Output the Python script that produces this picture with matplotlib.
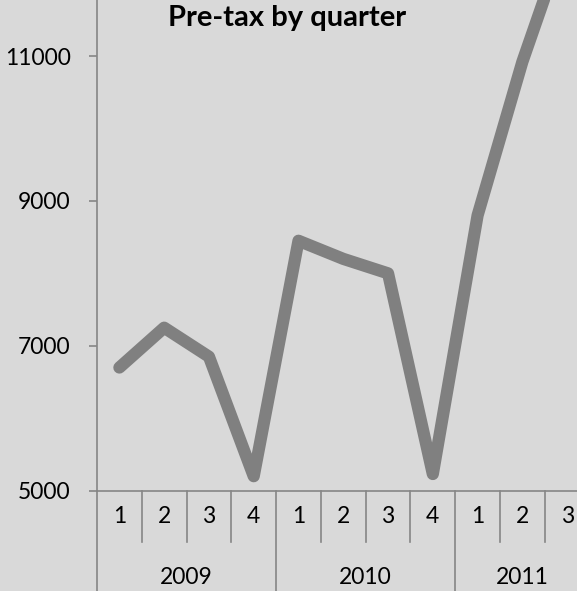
import matplotlib
matplotlib.use("Agg")
import matplotlib.pyplot as plt
from matplotlib.lines import Line2D

plt.rcParams['font.family'] = ['Lato', 'DejaVu Sans']

# quarterly pre-tax figures, 2009 Q1 .. 2011 Q3
years = ['2009', '2010', '2011']
quarters_per_year = [4, 4, 3]
quarter_labels = ['1', '2', '3', '4', '1', '2', '3', '4', '1', '2', '3']
pretax = [6700, 7250, 6850, 5200, 8450, 8200, 8000, 5230, 8800, 10920, 12700]
yticks = [5000, 7000, 9000, 11000]

bg = '#d9d9d9'
axis_grey = '#868686'

fig = plt.figure(figsize=(5.77, 5.91), dpi=100, facecolor=bg)
ax = fig.add_axes([97 / 577, 100.3 / 591, 1 - 97 / 577, 1 - 100.3 / 591])
ax.set_facecolor(bg)

x = list(range(len(pretax)))
ax.plot(x, pretax, color='#808080', lw=8.8, solid_joinstyle='round',
        solid_capstyle='round')

ax.set_xlim(-0.5, 10.22)
ax.set_ylim(5000, 11773)

for side in ['top', 'right']:
    ax.spines[side].set_visible(False)
for side in ['left', 'bottom']:
    ax.spines[side].set_color(axis_grey)
    ax.spines[side].set_linewidth(1.2)

ax.set_yticks(yticks)
ax.set_yticklabels([str(v) for v in yticks])
ax.tick_params(axis='y', direction='out', length=6, width=1.2, color=axis_grey,
               pad=13, labelsize=16.5, labelcolor='black')
ax.set_xticks([])

# two-level category axis: quarter cells on top, year cells below
tr = ax.get_xaxis_transform()
quarter_row = -51 / 490.7
year_row = -0.3
left_spine = Line2D([-0.5, -0.5], [0, year_row], transform=tr, color=axis_grey,
                    lw=1.2, clip_on=False)
ax.add_line(left_spine)

start = 0
for year, n in zip(years, quarters_per_year):
    for k in range(1, n):
        ax.add_line(Line2D([start + k - 0.5] * 2, [0, quarter_row], transform=tr,
                           color=axis_grey, lw=1.2, clip_on=False))
    end = start + n
    ax.add_line(Line2D([end - 0.5] * 2, [0, year_row], transform=tr,
                       color=axis_grey, lw=1.2, clip_on=False))
    ax.text((start + end - 1) / 2, -86.3 / 490.7, year, transform=tr,
            ha='center', va='center', fontsize=16.5, clip_on=False)
    start = end

for i, q in enumerate(quarter_labels):
    ax.text(i, -26 / 490.7, q, transform=tr, ha='center', va='center',
            fontsize=16.5, clip_on=False)

fig.text(287.5 / 577, 1 - 18 / 591, 'Pre-tax by quarter', ha='center',
         va='center', fontsize=21, fontweight='bold')

fig.savefig('out.png', dpi=100, facecolor=bg)
